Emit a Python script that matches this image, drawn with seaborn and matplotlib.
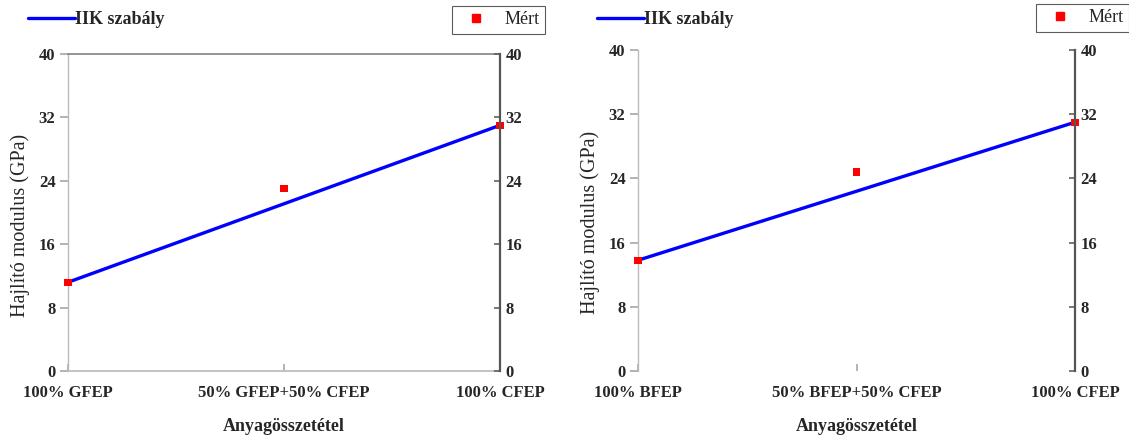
import matplotlib
matplotlib.use("Agg")
import matplotlib.pyplot as plt
import seaborn as sns
import pandas as pd
from matplotlib.lines import Line2D

sns.set_theme(style="white")
plt.rcParams['font.family'] = ['Liberation Serif', 'DejaVu Serif']

# Data
cats_left = ["100% GFEP", "50% GFEP+50% CFEP", "100% CFEP"]
cats_right = ["100% BFEP", "50% BFEP+50% CFEP", "100% CFEP"]
rule_left = [11.2, 21.1, 31.0]
meas_left = [11.2, 23.0, 31.0]
rule_right = [13.8, 22.4, 31.0]
meas_right = [13.8, 24.8, 31.0]
yticks = [0, 8, 16, 24, 32, 40]

fig = plt.figure(figsize=(11.29, 4.36), dpi=100)
ax1 = fig.add_axes([68/1129, 1-371/436, 432/1129, 317/436])
ax2 = fig.add_axes([638/1129, 1-371/436, 437/1129, 321/436])

def draw(ax, cats, rule, meas, top_line, bottom_line, ylab_y):
    df = pd.DataFrame({"x": range(len(cats)), "rule": rule, "meas": meas})
    sns.lineplot(data=df, x="x", y="rule", ax=ax, color="#0000ff", lw=2.4)
    sns.scatterplot(data=df, x="x", y="meas", ax=ax, color="#ff0000", marker="s",
                    s=28, edgecolor="none", zorder=5, clip_on=False)
    ax.set_xlim(0, len(cats) - 1)
    ax.set_ylim(0, 40)
    ax.set_yticks(yticks)
    ax.set_yticklabels([str(t) for t in yticks], fontweight="bold", fontsize=12)
    ax.set_xticks(range(len(cats)))
    ax.set_xticklabels(cats, fontweight="bold", fontsize=12)
    ax.tick_params(axis="y", direction="out", length=6, color="#aaaaaa", pad=3, left=True)
    ax.tick_params(axis="x", direction="in", length=5, color="#aaaaaa", pad=10, bottom=True)
    ax.set_xlabel("Anyagösszetétel", fontweight="bold", fontsize=13, labelpad=12)
    ax.set_ylabel("Hajlító modulus (GPa)", fontsize=14.5)
    ax.yaxis.set_label_coords(-0.088, ylab_y)
    ax.spines["left"].set_color("#bbbbbb")
    ax.spines["left"].set_linewidth(1.0)
    ax.spines["right"].set_visible(False)
    ax.spines["top"].set_visible(top_line)
    ax.spines["top"].set_color("#888888")
    ax.spines["bottom"].set_visible(bottom_line)
    ax.spines["bottom"].set_color("#bbbbbb")
    tw = ax.twinx()
    tw.set_ylim(0, 40)
    tw.set_yticks(yticks)
    tw.set_yticklabels([str(t) for t in yticks], fontweight="bold", fontsize=12)
    tw.tick_params(axis="y", direction="in", length=4, color="#666666", pad=4, right=True)
    for s in ["left", "top", "bottom"]:
        tw.spines[s].set_visible(False)
    tw.spines["right"].set_color("#555555")
    tw.spines["right"].set_linewidth(1.6)
    return tw

draw(ax1, cats_left, rule_left, meas_left, True, True, 0.46)
draw(ax2, cats_right, rule_right, meas_right, False, False, 0.464)

line_h = [Line2D([], [], color="#0000ff", lw=2.4)]
sq_h = [Line2D([], [], color="#ff0000", marker="s", ls="none", markersize=6)]

for (lx, ly), (mx, my) in [((28, 20), (545, 20)), ((597, 20), (1129, 18))]:
    fig.legend(line_h, ["IIK szabály"], loc="center left",
               bbox_to_anchor=(lx/1129, 1-ly/436), frameon=False,
               prop={"weight": "bold", "size": 13}, handlelength=2.6,
               handletextpad=0.0, borderaxespad=0, borderpad=0)
    lg = fig.legend(sq_h, ["Mért"], loc="center right",
                    bbox_to_anchor=(mx/1129, 1-my/436), frameon=True, fancybox=False,
                    prop={"size": 13}, handlelength=2.0, handletextpad=0.6,
                    borderaxespad=0, borderpad=0.3, edgecolor="#333333")
    lg.get_frame().set_linewidth(0.8)

fig.savefig("out.png", dpi=100, facecolor="white")
